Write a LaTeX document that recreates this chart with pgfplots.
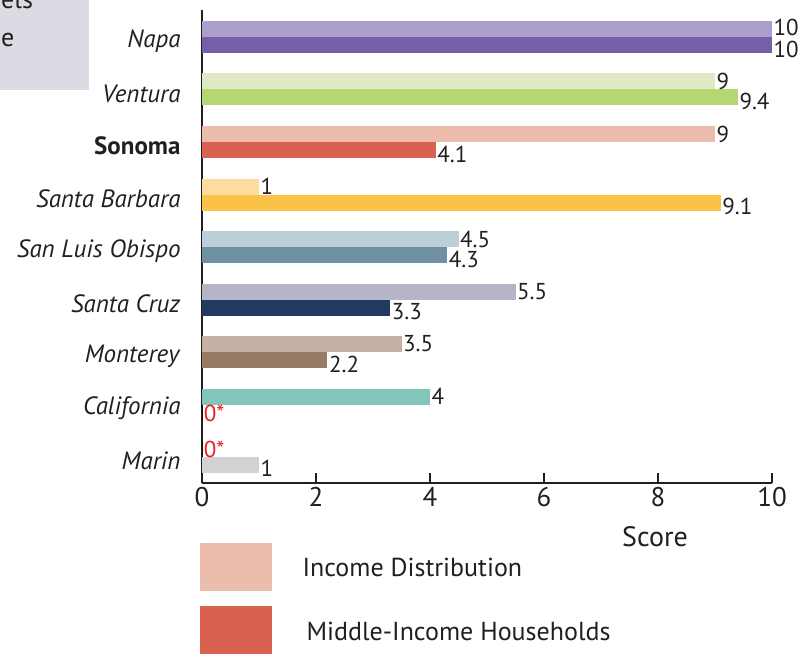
\documentclass[border=0pt]{standalone}
\usepackage{fontspec}
\setmainfont{PT Sans}
\usepackage{pgfplots}
\pgfplotsset{compat=1.18}
\definecolor{txt}{HTML}{231F20}
\definecolor{boxg}{HTML}{DCDBE3}
\definecolor{napaL}{HTML}{AB9FCD}\definecolor{napaD}{HTML}{755FA7}
\definecolor{venL}{HTML}{DFE9C5}\definecolor{venD}{HTML}{B4D771}
\definecolor{sonL}{HTML}{ECBDAD}\definecolor{sonD}{HTML}{D86150}
\definecolor{sbL}{HTML}{FDDD9D}\definecolor{sbD}{HTML}{FBC248}
\definecolor{sloL}{HTML}{BDD0D9}\definecolor{sloD}{HTML}{6D91A3}
\definecolor{scL}{HTML}{B6B5C7}\definecolor{scD}{HTML}{213A62}
\definecolor{monL}{HTML}{C4B0A4}\definecolor{monD}{HTML}{977B66}
\definecolor{calL}{HTML}{83C5B8}
\definecolor{marD}{HTML}{D1D2D4}
\definecolor{zred}{HTML}{ED1C24}
\begin{document}
\begin{tikzpicture}[font=\fontsize{26}{30}\selectfont,text=txt]
\useasboundingbox (0pt,0pt) rectangle (801pt,-654pt);
\fill[boxg] (0pt,0pt) rectangle (89pt,-90pt);
\node[anchor=base west,inner sep=0] at (1pt,-8pt) {els};
\node[anchor=base west,inner sep=0] at (1pt,-46pt) {e};
\begin{axis}[
  at={(202pt,-483pt)}, anchor=south west,
  scale only axis, width=570pt, height=473pt,
  xmin=0, xmax=10, ymin=-0.495, ymax=8.514,
  axis x line*=bottom, axis y line*=left,
  axis line style={line width=2.6pt, color=txt},
  xtick={0,2,4,6,8,10},
  x tick style={line width=2pt, color=txt},
  major tick length=10pt,
  xtick align=inside,
  x tick label style={font=\fontsize{27}{30}\selectfont, text=txt, yshift=-1pt},
  ytick={0,...,8},
  y tick style={draw=none},
  yticklabels={\textit{Marin},\textit{California},\textit{Monterey},\textit{Santa Cruz},\textit{San Luis Obispo},\textit{Santa Barbara},\textbf{Sonoma},\textit{Ventura},\textit{Napa}},
  y tick label style={font=\fontsize{25}{29}\selectfont, text=txt, xshift=-8pt, yshift=-4pt},
  /pgf/number format/assume math mode=true,
  clip=false,
  xbar, bar width=16pt,
  every node near coord/.append style={font=\fontsize{23}{27}\selectfont, text=txt, anchor=west, inner sep=0.5pt, xshift=1pt},
  nodes near coords,
]
% Income Distribution (top bars)
\addplot[fill=napaL, draw=none, bar shift=8pt, every node near coord/.append style={yshift=1.5pt}] coordinates {(10,8)};
\addplot[fill=venL, draw=none, bar shift=8pt] coordinates {(9,7)};
\addplot[fill=sonL, draw=none, bar shift=8pt] coordinates {(9,6)};
\addplot[fill=sbL, draw=none, bar shift=8pt] coordinates {(1,5)};
\addplot[fill=sloL, draw=none, bar shift=8pt] coordinates {(4.5,4)};
\addplot[fill=scL, draw=none, bar shift=8pt] coordinates {(5.5,3)};
\addplot[fill=monL, draw=none, bar shift=8pt] coordinates {(3.5,2)};
\addplot[fill=calL, draw=none, bar shift=8pt] coordinates {(4,1)};
\addplot[draw=black, line width=0.8pt, bar shift=8pt, nodes near coords={0*}, every node near coord/.append style={text=zred}] coordinates {(0,0)};
% Middle-Income Households (bottom bars)
\addplot[fill=napaD, draw=none, bar shift=-8pt, every node near coord/.append style={yshift=-4.5pt}] coordinates {(10,8)};
\addplot[fill=venD, draw=none, bar shift=-8pt, every node near coord/.append style={yshift=-4pt}] coordinates {(9.4,7)};
\addplot[fill=sonD, draw=none, bar shift=-8pt, every node near coord/.append style={yshift=-4pt}] coordinates {(4.1,6)};
\addplot[fill=sbD, draw=none, bar shift=-8pt, every node near coord/.append style={yshift=-4pt}] coordinates {(9.1,5)};
\addplot[fill=sloD, draw=none, bar shift=-8pt, every node near coord/.append style={yshift=-4pt}] coordinates {(4.3,4)};
\addplot[fill=scD, draw=none, bar shift=-8pt, every node near coord/.append style={yshift=-4pt}] coordinates {(3.3,3)};
\addplot[fill=monD, draw=none, bar shift=-8pt, every node near coord/.append style={yshift=-4pt}] coordinates {(2.2,2)};
\addplot[draw=black, line width=0.8pt, bar shift=-8pt, nodes near coords={0*}, every node near coord/.append style={text=zred, yshift=-1pt}] coordinates {(0,1)};
\addplot[fill=marD, draw=none, bar shift=-8pt, every node near coord/.append style={yshift=-3pt}] coordinates {(1,0)};
\end{axis}
\node[font=\fontsize{28}{32}\selectfont] at (655pt,-537pt) {Score};
\fill[sonL] (200pt,-543pt) rectangle (272pt,-591pt);
\node[anchor=west] at (299pt,-567pt) {Income Distribution};
\fill[sonD] (200pt,-606pt) rectangle (272pt,-654pt);
\node[anchor=west] at (303pt,-631pt) {Middle-Income Households};
\end{tikzpicture}
\end{document}
